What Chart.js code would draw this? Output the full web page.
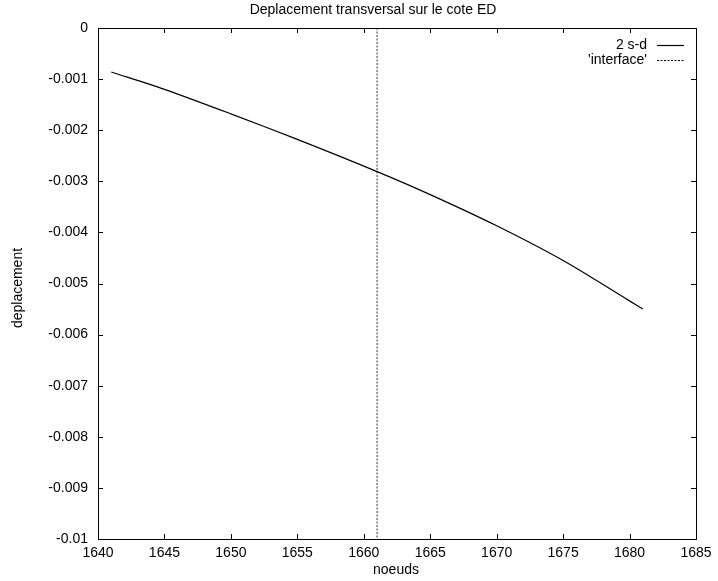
<!DOCTYPE html>
<html>
<head>
<meta charset="utf-8">
<script src="https://cdn.jsdelivr.net/npm/chart.js@4"></script>
<style>
body{margin:0;background:#fff}
#wrap{width:718px;height:581px;position:relative}
</style>
</head>
<body>
<div id="wrap"><canvas id="graphe"></canvas></div>
<script>
// valeurs
var noeuds=[1641,1645,1650,1655,1661,1665,1670,1675,1680,1681];
var depl=[-0.00086,-0.00120,-0.00168,-0.00218,-0.00281,-0.00326,-0.00387,-0.00455,-0.00534,-0.00550];
var interfaceX=[1661,1661];
var interfaceY=[0,-0.01];
var xTicks=[1640,1645,1650,1655,1660,1665,1670,1675,1680,1685];
var yTicks=[0,-0.001,-0.002,-0.003,-0.004,-0.005,-0.006,-0.007,-0.008,-0.009,-0.01];
var yLabels=['0','-0.001','-0.002','-0.003','-0.004','-0.005','-0.006','-0.007','-0.008','-0.009','-0.01'];

var police='"Liberation Sans", Arial, sans-serif';
var taille=14;

function pts(xs,ys){
	var r=[];
	for(var i=0;i<xs.length;i++){ r.push({x:xs[i],y:ys[i]}); }
	return r;
}

var cadre={
	id:'cadre',
	afterDraw:function(chart){
		var c=chart.ctx, a=chart.chartArea;
		var sx=chart.scales.x, sy=chart.scales.y;
		c.save();
		c.strokeStyle='#000';
		c.lineWidth=1;
		c.strokeRect(Math.round(a.left)+0.5,Math.round(a.top)+0.5,Math.round(a.right-a.left),Math.round(a.bottom-a.top));
		c.beginPath();
		for(var i=0;i<xTicks.length;i++){
			var px=Math.round(sx.getPixelForValue(xTicks[i]))+0.5;
			c.moveTo(px,a.bottom); c.lineTo(px,a.bottom-5);
			c.moveTo(px,a.top); c.lineTo(px,a.top+5);
		}
		for(var j=0;j<yTicks.length;j++){
			var py=Math.round(sy.getPixelForValue(yTicks[j]))+0.5;
			c.moveTo(a.left,py); c.lineTo(a.left+5,py);
			c.moveTo(a.right,py); c.lineTo(a.right-5,py);
		}
		c.stroke();

		// titres
		c.fillStyle='#000';
		c.font=taille+'px '+police;
		c.textAlign='center';
		c.textBaseline='middle';
		c.fillText('Deplacement transversal sur le cote ED',373,10);
		c.fillText('noeuds',396,570);
		c.save();
		c.translate(18,288);
		c.rotate(-Math.PI/2);
		c.fillText('deplacement',0,0);
		c.restore();

		// legende
		c.textAlign='right';
		c.fillText('2 s-d',647,45);
		c.fillText("'interface'",647,60);
		c.beginPath();
		c.lineWidth=1.2;
		c.moveTo(657,45.5); c.lineTo(684,45.5);
		c.stroke();
		c.beginPath();
		c.lineWidth=1;
		c.setLineDash([2,1.5]);
		c.moveTo(657,60.5); c.lineTo(684,60.5);
		c.stroke();
		c.restore();
	}
};

var ctx=document.getElementById('graphe').getContext('2d');
var graphe=new Chart(ctx,{
	type:'scatter',
	data:{
		datasets:[
			{
				label:'2 s-d',
				data:pts(noeuds,depl),
				showLine:true,
				borderColor:'#000',
				borderWidth:1.2,
				pointRadius:0,
				tension:0.3
			},
			{
				label:"'interface'",
				data:pts(interfaceX,interfaceY),
				showLine:true,
				borderColor:'#333',
				borderWidth:1,
				borderDash:[2,1.5],
				pointRadius:0
			}
		]
	},
	options:{
		responsive:true,
		maintainAspectRatio:false,
		animation:false,
		layout:{padding:{top:28,right:22,left:0,bottom:0}},
		plugins:{legend:{display:false},title:{display:false},tooltip:{enabled:false}},
		scales:{
			x:{
				type:'linear',min:1640,max:1685,
				afterBuildTicks:function(s){ s.ticks=xTicks.map(function(v){return {value:v};}); },
				afterFit:function(s){ s.height=42; },
				grid:{display:false,drawTicks:false},
				border:{display:false},
				ticks:{color:'#000',font:{family:police,size:taille},padding:6,maxRotation:0,autoSkip:false,
					callback:function(v){ return String(v); }}
			},
			y:{
				type:'linear',min:-0.01,max:0,
				afterBuildTicks:function(s){ s.ticks=yTicks.map(function(v){return {value:v};}); },
				afterFit:function(s){ s.width=98; },
				grid:{display:false,drawTicks:false},
				border:{display:false},
				ticks:{color:'#000',font:{family:police,size:taille},padding:10,autoSkip:false,
					callback:function(v,i){ return yLabels[i]; }}
			}
		}
	},
	plugins:[cadre]
});
</script>
</body>
</html>
